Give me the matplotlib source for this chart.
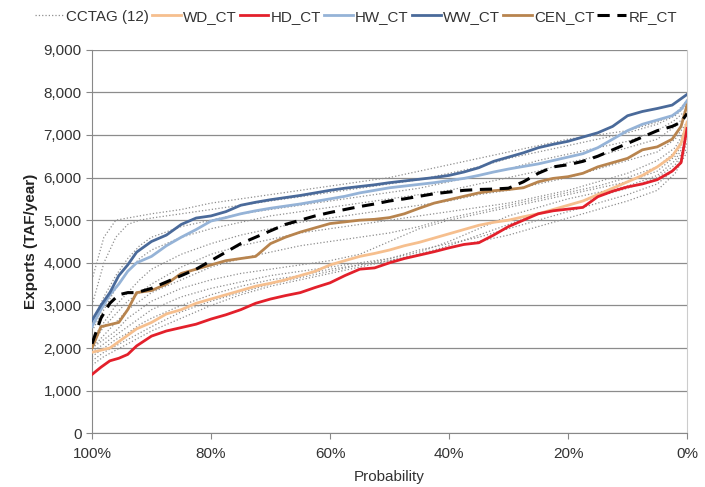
import numpy as np
import matplotlib
matplotlib.use('Agg')
import matplotlib.pyplot as plt
from matplotlib.ticker import FuncFormatter

plt.rcParams['font.family'] = ['Liberation Sans', 'DejaVu Sans']

# probability grid (exceedance, %) for the named scenarios
prob = [100, 98.5, 97, 95.5, 94, 92.5, 90, 87.5, 85, 82.5, 80, 77.5, 75, 72.5, 70,
        67.5, 65, 62.5, 60, 57.5, 55, 52.5, 50, 47.5, 45, 42.5, 40, 37.5, 35, 32.5,
        30, 27.5, 25, 22.5, 20, 17.5, 15, 12.5, 10, 7.5, 5, 2.5, 1, 0]

wd_ct = [1900, 1950, 2000, 2150, 2300, 2450, 2600, 2800, 2900, 3050, 3150, 3250, 3350, 3450, 3520,
         3600, 3700, 3800, 3950, 4050, 4150, 4220, 4300, 4400, 4480, 4580, 4680, 4780, 4880, 4950,
         5000, 5080, 5150, 5250, 5350, 5450, 5600, 5750, 5900, 6050, 6250, 6500, 6800, 7300]
hd_ct = [1380, 1550, 1700, 1760, 1850, 2050, 2280, 2400, 2480, 2560, 2680, 2780, 2900, 3050, 3150,
         3230, 3300, 3420, 3530, 3700, 3850, 3880, 4000, 4100, 4180, 4260, 4350, 4430, 4470, 4650,
         4850, 5000, 5150, 5220, 5260, 5300, 5550, 5680, 5780, 5850, 5950, 6150, 6350, 7150]
hw_ct = [2500, 2900, 3250, 3500, 3800, 4000, 4150, 4400, 4600, 4780, 4980, 5060, 5150, 5220, 5280,
         5330, 5380, 5440, 5500, 5560, 5640, 5700, 5760, 5800, 5840, 5880, 5930, 5980, 6050, 6130,
         6200, 6260, 6320, 6400, 6480, 6560, 6700, 6900, 7100, 7250, 7350, 7450, 7600, 7800]
ww_ct = [2650, 3000, 3300, 3700, 3950, 4250, 4500, 4650, 4900, 5050, 5100, 5200, 5350, 5420, 5480,
         5530, 5580, 5640, 5700, 5750, 5790, 5830, 5880, 5920, 5960, 6000, 6050, 6130, 6230, 6380,
         6480, 6580, 6700, 6780, 6850, 6950, 7050, 7200, 7450, 7550, 7620, 7700, 7850, 7950]
cen_ct = [2000, 2500, 2550, 2600, 2900, 3300, 3350, 3500, 3750, 3850, 3950, 4050, 4100, 4150, 4450,
          4600, 4720, 4820, 4920, 4960, 5000, 5020, 5060, 5150, 5280, 5400, 5480, 5560, 5640, 5690,
          5720, 5760, 5900, 5980, 6020, 6100, 6250, 6350, 6450, 6650, 6720, 6900, 7200, 7700]
rf_ct = [2100, 2700, 3050, 3250, 3300, 3300, 3400, 3550, 3700, 3850, 4050, 4250, 4450, 4600, 4750,
         4900, 5000, 5100, 5180, 5250, 5320, 5380, 5450, 5500, 5560, 5620, 5660, 5700, 5720, 5730,
         5750, 5900, 6100, 6250, 6300, 6380, 6500, 6650, 6800, 6950, 7100, 7200, 7300, 7500]

# coarser grid for the 12 CCTAG projections
prob_cc = [100, 98, 96, 94, 92, 90, 85, 80, 75, 70, 65, 60, 55, 50, 45, 40, 35, 30, 25, 20, 15, 10, 5, 2, 0]
cctag = [
    [3600, 4600, 5000, 5050, 5100, 5150, 5250, 5400, 5500, 5600, 5700, 5800, 5900, 6000, 6150, 6300, 6450, 6600, 6750, 6900, 7000, 7100, 7300, 7500, 7800],
    [3000, 4000, 4600, 4900, 5000, 5050, 5150, 5250, 5350, 5450, 5550, 5650, 5750, 5850, 5950, 6100, 6250, 6450, 6600, 6750, 6900, 7050, 7250, 7450, 7700],
    [2600, 3200, 3700, 4100, 4400, 4600, 4850, 5000, 5150, 5250, 5350, 5450, 5550, 5650, 5750, 5900, 6050, 6200, 6400, 6550, 6700, 6850, 7100, 7350, 7600],
    [2400, 2900, 3400, 3800, 4100, 4300, 4600, 4800, 4950, 5100, 5200, 5300, 5400, 5500, 5600, 5700, 5850, 6000, 6150, 6350, 6500, 6700, 6900, 7200, 7500],
    [2200, 2600, 3000, 3300, 3600, 3850, 4200, 4450, 4650, 4800, 4950, 5050, 5150, 5250, 5350, 5450, 5600, 5700, 5850, 6000, 6200, 6400, 6600, 6900, 7300],
    [2100, 2500, 2800, 3100, 3300, 3500, 3900, 4200, 4400, 4550, 4700, 4800, 4900, 5000, 5100, 5200, 5300, 5400, 5550, 5700, 5900, 6100, 6400, 6700, 7200],
    [2000, 2300, 2600, 2900, 3100, 3300, 3600, 3900, 4100, 4250, 4400, 4500, 4600, 4700, 4850, 5050, 5200, 5350, 5500, 5650, 5800, 6000, 6250, 6600, 7100],
    [2000, 2200, 2400, 2700, 2900, 3100, 3400, 3600, 3750, 3850, 3950, 4050, 4200, 4500, 4800, 5000, 5150, 5300, 5450, 5600, 5750, 5900, 6150, 6500, 7000],
    [1900, 2100, 2300, 2500, 2700, 2900, 3200, 3400, 3550, 3700, 3800, 3900, 4000, 4100, 4250, 4500, 4800, 5100, 5300, 5500, 5650, 5800, 6050, 6400, 6900],
    [1800, 2000, 2200, 2350, 2550, 2700, 3000, 3250, 3450, 3600, 3700, 3850, 3950, 4050, 4200, 4400, 4650, 4900, 5150, 5350, 5550, 5750, 6000, 6300, 6800],
    [1700, 1900, 2050, 2200, 2350, 2500, 2850, 3100, 3300, 3500, 3650, 3800, 3950, 4100, 4300, 4450, 4600, 4800, 5000, 5200, 5400, 5600, 5850, 6200, 6700],
    [1600, 1800, 1950, 2100, 2250, 2400, 2700, 3000, 3250, 3450, 3600, 3750, 3900, 4050, 4200, 4350, 4500, 4650, 4850, 5050, 5250, 5450, 5700, 6100, 6600],
]

x_ticks = [100, 80, 60, 40, 20, 0]
y_ticks = list(range(0, 9001, 1000))

fig = plt.figure(figsize=(7.05, 4.87), dpi=100)
ax = fig.add_axes([0.1305, 0.1103, 0.8440, 0.7877])

for i, c in enumerate(cctag):
    ax.plot(prob_cc, c, color='#8f8f8f', ls=':', lw=0.9,
            label='CCTAG (12)' if i == 0 else None, zorder=2)

ax.plot(prob, wd_ct, color='#f6bf8e', lw=2.0, label='WD_CT', zorder=3)
ax.plot(prob, hd_ct, color='#e3202b', lw=2.0, label='HD_CT', zorder=3)
ax.plot(prob, hw_ct, color='#95b3d7', lw=2.0, label='HW_CT', zorder=3)
ax.plot(prob, ww_ct, color='#4a6a9a', lw=2.0, label='WW_CT', zorder=3)
ax.plot(prob, cen_ct, color='#b8844e', lw=2.0, label='CEN_CT', zorder=3)
ax.plot(prob, rf_ct, color='black', lw=2.2, ls=(0, (4, 2.5)), label='RF_CT', zorder=4)

ax.set_xlim(100, 0)
ax.set_ylim(0, 9000)
ax.set_xticks(x_ticks)
ax.set_xticklabels([f'{t}%' for t in x_ticks])
ax.set_yticks(y_ticks)
ax.yaxis.set_major_formatter(FuncFormatter(lambda v, p: f'{int(v):,}'))
ax.grid(axis='y', color='#8c8c8c', lw=0.9)
ax.set_axisbelow(True)

ax.spines['top'].set_visible(False)
ax.spines['left'].set_color('#888888')
ax.spines['bottom'].set_color('#888888')
ax.spines['right'].set_color('#cccccc')
ax.tick_params(colors='#888888', labelcolor='#333333', labelsize=11, length=4)
ax.tick_params(axis='x', pad=6)

ax.set_xlabel('Probability', fontsize=11, color='#333333', labelpad=6)
ax.set_ylabel('Exports (TAF/year)', fontsize=11, fontweight='bold', color='#222222')

fig.legend(loc='upper center', bbox_to_anchor=(0.505, 1.008), ncol=7, frameon=False,
           fontsize=10.9, handlelength=1.9, handletextpad=0.15, columnspacing=0.2,
           labelcolor='#333333')

fig.savefig('out.png', dpi=100)
